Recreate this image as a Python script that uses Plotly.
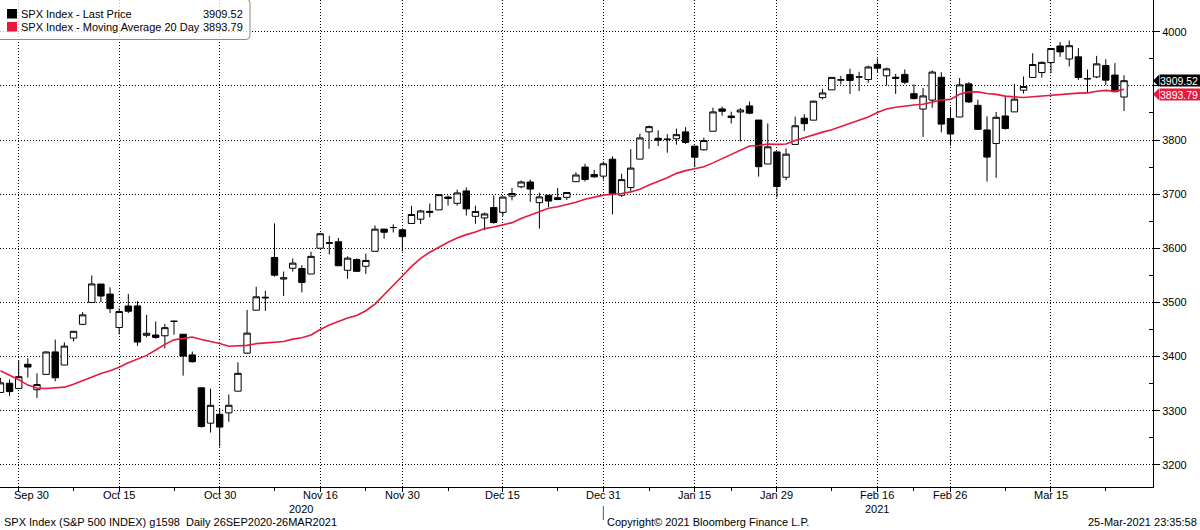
import plotly.graph_objects as go

# ---------------- data ----------------
dates = ["2020-09-28","2020-09-29","2020-09-30","2020-10-01","2020-10-02","2020-10-05","2020-10-06","2020-10-07","2020-10-08","2020-10-09",
         "2020-10-12","2020-10-13","2020-10-14","2020-10-15","2020-10-16","2020-10-19","2020-10-20","2020-10-21","2020-10-22","2020-10-23",
         "2020-10-26","2020-10-27","2020-10-28","2020-10-29","2020-10-30","2020-11-02","2020-11-03","2020-11-04","2020-11-05","2020-11-06",
         "2020-11-09","2020-11-10","2020-11-11","2020-11-12","2020-11-13","2020-11-16","2020-11-17","2020-11-18","2020-11-19","2020-11-20",
         "2020-11-23","2020-11-24","2020-11-25","2020-11-27","2020-11-30","2020-12-01","2020-12-02","2020-12-03","2020-12-04","2020-12-07",
         "2020-12-08","2020-12-09","2020-12-10","2020-12-11","2020-12-14","2020-12-15","2020-12-16","2020-12-17","2020-12-18","2020-12-21",
         "2020-12-22","2020-12-23","2020-12-24","2020-12-28","2020-12-29","2020-12-30","2020-12-31","2021-01-04","2021-01-05","2021-01-06",
         "2021-01-07","2021-01-08","2021-01-11","2021-01-12","2021-01-13","2021-01-14","2021-01-15","2021-01-19","2021-01-20","2021-01-21",
         "2021-01-22","2021-01-25","2021-01-26","2021-01-27","2021-01-28","2021-01-29","2021-02-01","2021-02-02","2021-02-03","2021-02-04",
         "2021-02-05","2021-02-08","2021-02-09","2021-02-10","2021-02-11","2021-02-12","2021-02-16","2021-02-17","2021-02-18","2021-02-19",
         "2021-02-22","2021-02-23","2021-02-24","2021-02-25","2021-02-26","2021-03-01","2021-03-02","2021-03-03","2021-03-04","2021-03-05",
         "2021-03-08","2021-03-09","2021-03-10","2021-03-11","2021-03-12","2021-03-15","2021-03-16","2021-03-17","2021-03-18","2021-03-19",
         "2021-03-22","2021-03-23","2021-03-24","2021-03-25"]

open_ = [3333.90,3350.92,3341.21,3385.87,3338.94,3367.27,3408.74,3384.56,3434.28,3459.67,
         3500.02,3534.01,3515.47,3453.72,3493.50,3493.66,3439.38,3439.91,3438.50,3464.90,
         3441.42,3403.15,3342.48,3277.17,3293.59,3296.20,3336.25,3406.46,3485.74,3508.34,
         3583.04,3543.26,3563.22,3562.67,3552.57,3600.16,3610.31,3612.09,3559.41,3579.31,
         3566.82,3594.52,3635.50,3638.55,3634.18,3645.87,3653.78,3668.28,3670.94,3694.73,
         3683.05,3705.98,3659.13,3656.08,3675.27,3666.41,3696.25,3713.65,3722.39,3684.28,
         3698.08,3693.42,3694.03,3723.03,3750.01,3736.19,3733.27,3764.61,3698.02,3712.20,
         3764.71,3815.05,3803.14,3801.62,3802.23,3814.98,3788.73,3781.88,3816.22,3857.46,
         3844.24,3851.68,3862.96,3836.83,3755.75,3778.05,3731.17,3791.84,3840.27,3836.66,
         3878.30,3892.59,3910.49,3920.78,3916.40,3911.65,3939.61,3918.50,3915.86,3921.16,
         3885.55,3857.07,3873.71,3915.80,3839.66,3842.51,3903.64,3863.99,3818.53,3793.58,
         3844.39,3851.93,3891.99,3915.54,3924.52,3942.96,3973.59,3949.57,3953.50,3913.14,
         3916.48,3937.60,3919.93,3879.34]

high = [3360.74,3357.92,3393.56,3397.18,3369.10,3409.57,3431.56,3426.26,3447.28,3482.34,
        3549.85,3534.01,3527.94,3489.08,3515.76,3502.42,3476.93,3464.86,3460.53,3466.46,
        3441.42,3409.51,3342.48,3341.05,3304.93,3330.14,3389.49,3486.25,3529.05,3521.58,
        3645.99,3557.22,3581.16,3569.02,3593.66,3628.51,3623.11,3619.09,3585.22,3581.23,
        3589.81,3642.31,3635.50,3644.31,3634.18,3678.45,3670.96,3682.73,3699.20,3697.41,
        3708.45,3712.39,3678.49,3665.91,3697.61,3695.29,3711.27,3725.12,3726.70,3702.90,
        3698.26,3711.24,3703.82,3740.51,3756.12,3744.63,3760.20,3769.99,3737.83,3783.04,
        3811.55,3826.69,3817.86,3810.78,3820.96,3823.60,3788.73,3804.53,3859.75,3861.45,
        3852.31,3859.23,3870.90,3836.83,3830.50,3778.05,3784.32,3843.09,3847.51,3872.42,
        3894.56,3915.77,3918.35,3931.50,3925.99,3937.23,3950.43,3933.61,3921.98,3930.41,
        3902.92,3895.98,3928.65,3925.02,3861.08,3914.50,3906.41,3874.47,3843.67,3851.69,
        3881.06,3903.76,3917.35,3960.27,3944.99,3970.08,3981.04,3983.87,3969.62,3930.12,
        3955.31,3949.13,3942.08,3919.54]

low = [3332.91,3327.54,3340.47,3361.39,3323.69,3367.27,3354.54,3384.56,3428.15,3458.07,
       3499.61,3500.86,3480.55,3440.89,3480.45,3419.93,3435.65,3433.06,3415.34,3440.45,
       3364.86,3388.71,3268.89,3259.82,3233.94,3279.74,3336.25,3405.17,3485.74,3484.34,
       3547.48,3511.91,3557.00,3518.58,3552.57,3600.16,3588.68,3567.33,3543.84,3556.85,
       3552.77,3594.52,3617.76,3629.33,3594.39,3645.87,3644.84,3657.17,3670.94,3678.88,
       3678.83,3660.54,3645.18,3633.40,3645.84,3659.62,3688.57,3710.87,3685.84,3636.48,
       3676.16,3689.28,3689.32,3723.03,3723.31,3730.21,3726.88,3662.71,3695.07,3705.34,
       3764.71,3783.60,3789.02,3776.51,3791.50,3792.86,3749.62,3780.37,3816.22,3845.05,
       3830.41,3797.16,3847.78,3732.48,3755.75,3694.12,3725.62,3791.84,3816.68,3836.66,
       3874.93,3892.59,3902.64,3884.94,3890.39,3905.78,3923.85,3900.43,3885.03,3903.07,
       3874.71,3805.59,3859.60,3814.04,3789.54,3842.51,3868.57,3818.86,3723.34,3730.19,
       3819.25,3851.93,3885.73,3915.54,3915.21,3923.54,3953.44,3935.74,3910.86,3886.75,
       3914.16,3901.57,3889.07,3853.50]

close = [3351.60,3335.47,3363.00,3380.80,3348.42,3408.60,3360.97,3419.44,3446.83,3477.14,
         3534.22,3511.93,3488.67,3483.34,3483.81,3426.92,3443.12,3435.56,3453.49,3465.39,
         3400.97,3390.68,3271.03,3310.11,3269.96,3310.24,3369.16,3443.44,3510.45,3509.44,
         3550.50,3545.53,3572.66,3537.01,3585.15,3626.91,3609.53,3567.79,3581.87,3557.54,
         3577.59,3635.41,3629.65,3638.35,3621.63,3662.45,3669.01,3666.72,3699.12,3691.96,
         3702.25,3672.82,3668.10,3663.46,3647.49,3694.62,3701.17,3722.48,3709.41,3694.92,
         3687.26,3690.01,3703.06,3735.36,3727.04,3732.04,3756.07,3700.65,3726.86,3748.14,
         3803.79,3824.68,3799.61,3801.19,3809.84,3795.54,3768.25,3798.91,3851.85,3853.07,
         3841.47,3855.36,3849.62,3750.77,3787.38,3714.24,3773.86,3826.31,3830.17,3871.74,
         3886.83,3915.59,3911.23,3909.88,3916.38,3934.83,3932.59,3931.33,3913.97,3906.71,
         3876.50,3881.37,3925.43,3829.34,3811.15,3901.82,3870.29,3819.72,3768.47,3841.94,
         3821.35,3875.44,3898.81,3939.34,3943.34,3968.94,3962.71,3974.12,3915.46,3913.10,
         3940.59,3910.52,3889.14,3909.52]

ma20 = [3373.88,3365.64,3357.46,3347.46,3342.13,3341.21,3342.66,3343.69,3349.07,3355.88,
        3363.41,3368.95,3374.11,3380.43,3388.64,3395.94,3402.31,3412.24,3422.59,3430.94,
        3433.40,3436.17,3431.57,3428.03,3424.11,3419.19,3419.60,3420.80,3423.98,3425.60,
        3426.41,3428.09,3432.29,3434.97,3440.04,3450.04,3458.36,3464.97,3471.39,3476.00,
        3484.83,3497.07,3515.00,3531.41,3548.99,3566.60,3581.60,3592.76,3602.19,3611.32,
        3618.91,3625.27,3630.04,3636.37,3639.48,3642.87,3647.45,3655.18,3661.56,3668.43,
        3673.91,3676.64,3680.31,3685.17,3690.44,3693.92,3698.27,3699.96,3701.35,3704.16,
        3709.24,3716.83,3723.41,3730.29,3738.41,3743.46,3746.81,3750.63,3757.75,3765.66,
        3773.37,3781.64,3788.97,3789.74,3792.75,3791.86,3792.75,3799.04,3804.20,3810.38,
        3814.53,3819.08,3824.66,3830.10,3835.42,3842.39,3850.60,3857.23,3860.33,3863.01,
        3864.76,3866.07,3869.86,3873.78,3874.97,3884.35,3889.17,3888.84,3885.76,3884.27,
        3880.99,3878.99,3878.37,3879.84,3881.19,3882.89,3884.40,3886.54,3886.61,3886.93,
        3890.14,3891.59,3889.78,3893.79]

# x-axis labels (trading dates) and their text
major_dates = ["2020-09-30","2020-10-15","2020-10-30","2020-11-16","2020-11-30","2020-12-15",
               "2020-12-31","2021-01-15","2021-01-29","2021-02-16","2021-02-26","2021-03-15"]
major_labels = ["Sep 30","Oct 15","Oct 30","Nov 16","Nov 30","Dec 15",
                "Dec 31","Jan 15","Jan 29","Feb 16","Feb 26","Mar 15"]
minor_dates = ["2020-10-08","2020-10-23","2020-11-09","2020-11-23","2020-12-07","2020-12-23",
               "2021-01-08","2021-01-22","2021-02-08","2021-02-22","2021-03-08","2021-03-23"]
y_ticks = [3200, 3300, 3400, 3500, 3600, 3700, 3800, 3900, 4000]
y_tick_labels = ["3200", "3300", "3400", "3500", "3600", "3700", "3800", "", "4000"]

last_price = close[-1]
last_ma = ma20[-1]

# ---------------- layout geometry ----------------
W, H = 1200, 530
ML, MR, MT, MB = 0, 47, 0, 43
PW, PH = W - ML - MR, H - MT - MB
X_RANGE = [-0.047, 126.17]
Y_RANGE = [3159.3, 4058.5]

FONT = "Liberation Sans, Arial, sans-serif"
RED = "#e8193c"
GRID = "#000000"
DOTS = "1px,2px"

def px(xp):   # pixel x -> paper
    return (xp - ML) / PW

def py(yp):   # pixel y -> paper
    return 1 - (yp - MT) / PH

def vy(v):    # data value -> paper y (through y range)
    return (v - Y_RANGE[0]) / (Y_RANGE[1] - Y_RANGE[0])

xi = list(range(len(dates)))
major_idx = [dates.index(d) for d in major_dates]
minor_idx = [dates.index(d) for d in minor_dates]

fig = go.Figure()

fig.add_trace(go.Candlestick(
    x=xi, open=open_, high=high, low=low, close=close,
    increasing=dict(fillcolor="#ffffff", line=dict(color="#000000", width=1)),
    decreasing=dict(fillcolor="#000000", line=dict(color="#000000", width=1)),
    whiskerwidth=0, showlegend=False, hoverinfo="skip", name="SPX Index - Last Price",
))

fig.add_trace(go.Scatter(
    x=xi, y=ma20, mode="lines", line=dict(color=RED, width=1.6),
    showlegend=False, hoverinfo="skip", name="SPX Index - Moving Average 20 Day",
))

annotations = []
shapes = []

# x tick labels
for i, (idx, lab) in enumerate(zip(major_idx, major_labels)):
    annotations.append(dict(x=idx, xref="x", y=py(495), yref="paper", text=lab, showarrow=False,
                            xanchor="center", yanchor="middle", xshift=13 if i == 0 else 0,
                            font=dict(family=FONT, size=11, color="#000")))
# year labels
annotations.append(dict(x=px(301), xref="paper", y=py(508.5), yref="paper", text="2020", showarrow=False,
                        xanchor="center", yanchor="middle", font=dict(family=FONT, size=11, color="#000")))
annotations.append(dict(x=major_idx[9], xref="x", y=py(508.5), yref="paper", text="2021", showarrow=False,
                        xanchor="center", yanchor="middle", font=dict(family=FONT, size=11, color="#000")))
# year separator
shapes.append(dict(type="line", xref="x", yref="paper", x0=major_idx[6], x1=major_idx[6],
                   y0=py(506), y1=py(520), line=dict(color="#555", width=1)))

# footer
annotations.append(dict(x=px(2), xref="paper", y=py(522), yref="paper",
                        text="SPX Index (S&P 500 INDEX) g1598  Daily 26SEP2020-26MAR2021",
                        showarrow=False, xanchor="left", yanchor="middle",
                        font=dict(family=FONT, size=11, color="#000")))
annotations.append(dict(x=px(605), xref="paper", y=py(522), yref="paper",
                        text="Copyright\u00a9 2021 Bloomberg Finance L.P.",
                        showarrow=False, xanchor="left", yanchor="middle",
                        font=dict(family=FONT, size=11, color="#000")))
annotations.append(dict(x=px(1199), xref="paper", y=py(522), yref="paper",
                        text="25-Mar-2021 23:35:58",
                        showarrow=False, xanchor="right", yanchor="middle",
                        font=dict(family=FONT, size=11, color="#000")))

# legend box (rounded)
x0, x1, y0, y1, r = px(-1), px(250), py(-1), py(39.5), 4
rx, ry = r / PW, r / PH
shapes.append(dict(type="path", xref="paper", yref="paper",
                   path=(f"M {x0} {y0} L {x1-rx} {y0} Q {x1} {y0} {x1} {y0-ry} "
                         f"L {x1} {y1+ry} Q {x1} {y1} {x1-rx} {y1} L {x0} {y1} Z"),
                   line=dict(color="#8a8a8a", width=1), fillcolor="rgba(255,255,255,0.75)", layer="above"))
shapes.append(dict(type="rect", xref="paper", yref="paper", x0=px(7), x1=px(17), y0=py(9), y1=py(18.5),
                   line=dict(width=0), fillcolor="#000000", layer="above"))
shapes.append(dict(type="rect", xref="paper", yref="paper", x0=px(7), x1=px(17), y0=py(22), y1=py(31.5),
                   line=dict(width=0), fillcolor=RED, layer="above"))
for yy, name, val in [(14, "SPX Index - Last Price", last_price),
                      (27, "SPX Index - Moving Average 20 Day", last_ma)]:
    annotations.append(dict(x=px(19), xref="paper", y=py(yy), yref="paper", text=name, showarrow=False,
                            xanchor="left", yanchor="middle", font=dict(family=FONT, size=11, color="#000")))
    annotations.append(dict(x=px(245), xref="paper", y=py(yy), yref="paper", text=f"{val:.2f}", showarrow=False,
                            xanchor="right", yanchor="middle", font=dict(family=FONT, size=11, color="#000")))

# price tags on the right axis (MA tag nudged down slightly so both stay readable)
for val, col, ysh in [(last_ma, RED, -5), (last_price, "#000000", 0)]:
    yc = vy(val) + ysh / PH
    h2 = 6 / PH
    shapes.append(dict(type="path", xref="paper", yref="paper",
                       path=f"M {px(1153)} {yc} L {px(1159)} {yc+h2} L {px(1159)} {yc-h2} Z",
                       line=dict(width=0), fillcolor=col, layer="above"))
    annotations.append(dict(x=px(1158.5), xref="paper", y=val, yref="y", yshift=ysh,
                            text=f"{val:.2f}", showarrow=False,
                            xanchor="left", yanchor="middle", width=42, height=11, borderpad=0,
                            bgcolor=col, align="left",
                            font=dict(family=FONT, size=10.5, color="#ffffff")))

fig.update_layout(
    width=W, height=H,
    margin=dict(l=ML, r=MR, t=MT, b=MB, pad=0),
    paper_bgcolor="#ffffff", plot_bgcolor="#ffffff",
    font=dict(family=FONT, size=11, color="#000"),
    showlegend=False,
    annotations=annotations, shapes=shapes,
    boxgap=0.3, boxgroupgap=0,
    xaxis=dict(
        range=X_RANGE, rangeslider=dict(visible=False),
        tickmode="array", tickvals=major_idx, showticklabels=False,
        ticks="outside", ticklen=4, tickcolor="#000",
        showgrid=True, gridcolor=GRID, griddash=DOTS, gridwidth=1,
        showline=True, linecolor="#000", linewidth=1, zeroline=False,
        minor=dict(tickmode="array", tickvals=minor_idx, ticks="outside", ticklen=3,
                   tickcolor="#000", showgrid=False),
        fixedrange=True,
    ),
    yaxis=dict(
        range=Y_RANGE, side="right",
        tickmode="array", tickvals=y_ticks, ticktext=y_tick_labels,
        ticks="outside", ticklen=6, tickwidth=1, tickcolor="#000",
        tickfont=dict(family=FONT, size=11, color="#000"),
        showgrid=True, gridcolor=GRID, griddash=DOTS, gridwidth=1,
        showline=True, linecolor="#000", linewidth=1, zeroline=False,
        minor=dict(tickmode="array", tickvals=[v + 50 for v in y_ticks[:-1]], ticks="inside",
                   ticklen=4, tickcolor="#000", showgrid=False),
        fixedrange=True,
    ),
)

fig.write_html("out.html")
